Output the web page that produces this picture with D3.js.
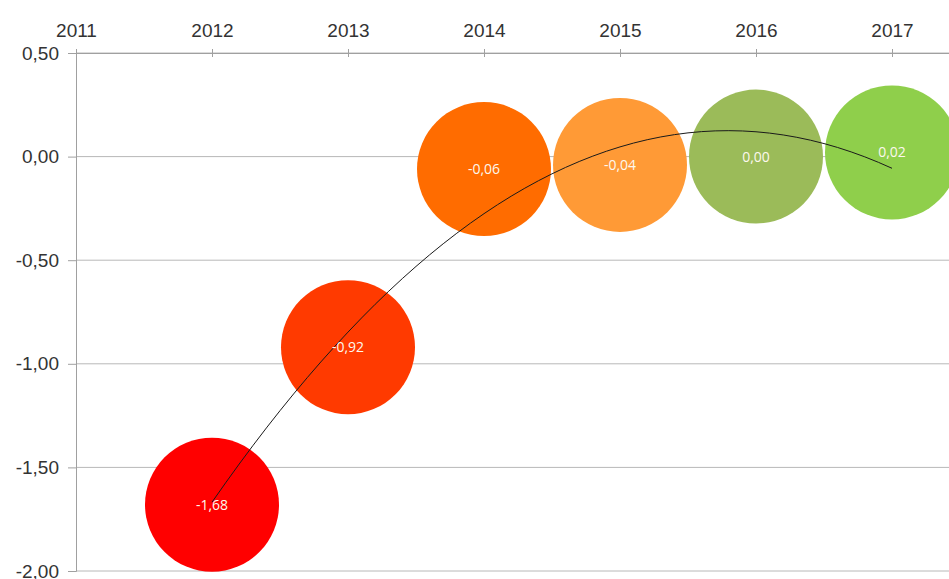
<!DOCTYPE html>
<html>
<head>
<meta charset="utf-8">
<script src="https://cdn.jsdelivr.net/npm/d3@7"></script>
<style>
  body { margin: 0; background: #fff; overflow: hidden; }
  svg { display: block; }
</style>
</head>
<body>
<script>
'use strict';

// chart data
const years = [2012, 2013, 2014, 2015, 2016, 2017];
const values = [-1.68, -0.92, -0.06, -0.04, 0.00, 0.02];
const bubbleSizes = [1, 1, 1, 1, 1, 1];
const bubbleColors = ['#ff0000', '#ff3a00', '#ff6c00', '#ff9a36', '#9bbb59', '#8fcf4b'];
const yearTicks = [2011, 2012, 2013, 2014, 2015, 2016, 2017];
const valueTicks = [0.5, 0, -0.5, -1, -1.5, -2];

const width = 949, height = 579;
const fmt = (v) => d3.format('.2f')(v).replace('.', ',').replace('−', '-');

let svg = d3.select('body').append('svg')
  .attr('width', width)
  .attr('height', height);

// scales
let x = d3.scaleLinear().domain([2011, 2018]).range([76, 1028]);
let y = d3.scaleLinear().domain([-2, 0.5]).range([571, 53]);
let r = d3.scaleSqrt().domain([0, d3.max(bubbleSizes)]).range([0, 67]);

// horizontal gridlines
svg.append('g')
  .selectAll('line')
  .data(valueTicks)
  .join('line')
    .attr('x1', x(2011))
    .attr('x2', width)
    .attr('y1', (d) => y(d))
    .attr('y2', (d) => y(d))
    .attr('stroke', '#b8b8b8')
    .attr('stroke-width', 1);

// left axis
let yAxis = d3.axisLeft(y).tickValues(valueTicks).tickSize(8).tickPadding(9).tickFormat(fmt);
svg.append('g')
  .attr('transform', `translate(${x(2011)},0)`)
  .call(yAxis)
  .call((g) => g.select('.domain').attr('stroke', '#a0a0a0'))
  .call((g) => g.selectAll('.tick line').attr('stroke', '#a0a0a0'))
  .call((g) => g.selectAll('text')
    .attr('fill', '#333')
    .style('font-family', '"Liberation Sans", Arial, sans-serif')
    .style('font-size', '19px'));

// top axis
let xAxis = d3.axisTop(x).tickValues(yearTicks).tickSize(4).tickPadding(12).tickFormat(d3.format('d'));
svg.append('g')
  .attr('transform', `translate(0,${y(0.5)})`)
  .call(xAxis)
  .call((g) => g.select('.domain').attr('stroke', '#a0a0a0'))
  .call((g) => g.selectAll('.tick line').attr('stroke', '#a0a0a0').attr('y2', 4).attr('y1', -4))
  .call((g) => g.selectAll('text')
    .attr('fill', '#333')
    .style('font-family', '"Liberation Sans", Arial, sans-serif')
    .style('font-size', '19px'));

// bubbles
svg.append('g')
  .selectAll('circle')
  .data(years)
  .join('circle')
    .attr('cx', (d) => x(d))
    .attr('cy', (d, i) => y(values[i]))
    .attr('r', (d, i) => r(bubbleSizes[i]))
    .attr('fill', (d, i) => bubbleColors[i]);

// polynomial (order 2) trend line, least squares fit of the values
function quadFit(xs, ys) {
  let s = [0, 0, 0, 0, 0], t = [0, 0, 0];
  xs.forEach((xv, i) => {
    for (let k = 0; k <= 4; k++) s[k] += Math.pow(xv, k);
    for (let k = 0; k <= 2; k++) t[k] += Math.pow(xv, k) * ys[i];
  });
  let m = [[s[0], s[1], s[2], t[0]], [s[1], s[2], s[3], t[1]], [s[2], s[3], s[4], t[2]]];
  for (let c = 0; c < 3; c++) {
    for (let rr = c + 1; rr < 3; rr++) {
      let f = m[rr][c] / m[c][c];
      for (let k = c; k < 4; k++) m[rr][k] -= f * m[c][k];
    }
  }
  let coef = [0, 0, 0];
  for (let c = 2; c >= 0; c--) {
    let sum = m[c][3];
    for (let k = c + 1; k < 3; k++) sum -= m[c][k] * coef[k];
    coef[c] = sum / m[c][c];
  }
  return coef;
}

let idx = years.map((d) => d - 2011);
let coef = quadFit(idx, values);
let trendPts = d3.range(1, 6.01, 0.1).map((t) => [t + 2011, coef[0] + coef[1] * t + coef[2] * t * t]);

svg.append('path')
  .datum(trendPts)
  .attr('fill', 'none')
  .attr('stroke', '#1a1a1a')
  .attr('stroke-width', 1)
  .attr('d', d3.line().x((d) => x(d[0])).y((d) => y(d[1])).curve(d3.curveMonotoneX));

// bubble labels
svg.append('g')
  .selectAll('text')
  .data(years)
  .join('text')
    .attr('x', (d) => x(d))
    .attr('y', (d, i) => y(values[i]))
    .attr('dy', '0.35em')
    .attr('text-anchor', 'middle')
    .attr('fill', '#fdf8ee')
    .style('font-family', '"Open Sans", sans-serif')
    .style('font-size', '14px')
    .text((d, i) => fmt(values[i]));
</script>
</body>
</html>
